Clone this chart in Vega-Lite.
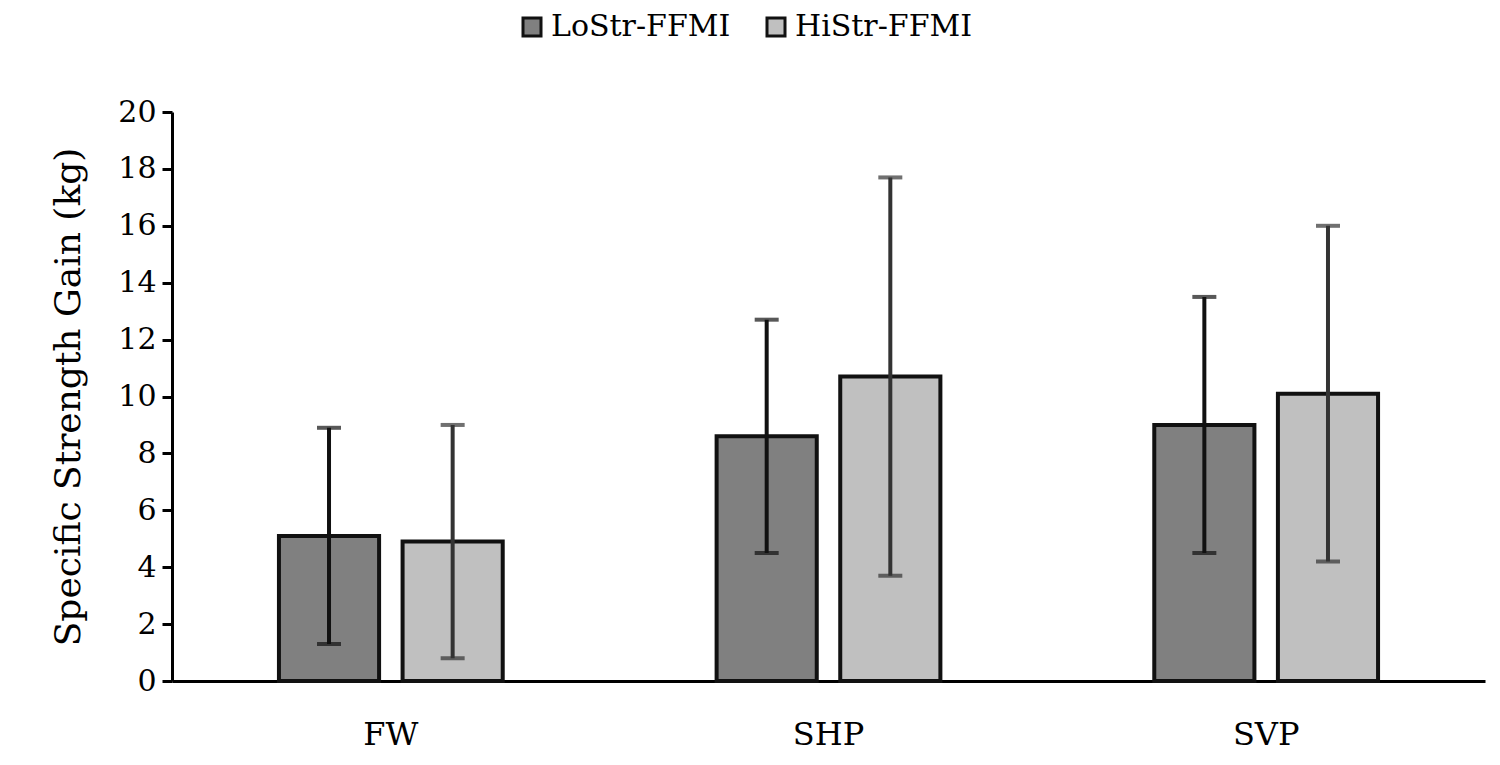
{
  "$schema": "https://vega.github.io/schema/vega-lite/v6.json",
  "width": 1313,
  "height": 569,
  "autosize": "none",
  "padding": {"left": 172, "top": 112, "right": 15, "bottom": 84},
  "background": "#ffffff",
  "view": {"stroke": null},
  "config": {"font": "DejaVu Serif"},
  "data": {
    "values": [
      {"exercise": "FW", "group": "LoStr-FFMI", "mean": 5.1, "lo": 1.3, "hi": 8.9},
      {"exercise": "FW", "group": "HiStr-FFMI", "mean": 4.9, "lo": 0.8, "hi": 9.0},
      {"exercise": "SHP", "group": "LoStr-FFMI", "mean": 8.6, "lo": 4.5, "hi": 12.7},
      {"exercise": "SHP", "group": "HiStr-FFMI", "mean": 10.7, "lo": 3.7, "hi": 17.7},
      {"exercise": "SVP", "group": "LoStr-FFMI", "mean": 9.0, "lo": 4.5, "hi": 13.5},
      {"exercise": "SVP", "group": "HiStr-FFMI", "mean": 10.1, "lo": 4.2, "hi": 16.0}
    ]
  },
  "encoding": {
    "x": {
      "field": "exercise",
      "type": "nominal",
      "sort": ["FW", "SHP", "SVP"],
      "scale": {"paddingInner": 0, "paddingOuter": 0},
      "axis": {
        "title": null,
        "labelAngle": 0,
        "labelFontSize": 32,
        "labelColor": "#000000",
        "labelPadding": 38,
        "ticks": false,
        "domainColor": "#000000",
        "domainWidth": 3
      }
    },
    "xOffset": {
      "field": "group",
      "type": "nominal",
      "sort": ["LoStr-FFMI", "HiStr-FFMI"],
      "scale": {"paddingInner": 0.19, "paddingOuter": 0.865}
    }
  },
  "layer": [
    {
      "mark": {"type": "bar", "stroke": "#111111", "strokeWidth": 4},
      "encoding": {
        "y": {
          "field": "mean",
          "type": "quantitative",
          "scale": {"domain": [0, 20]},
          "axis": {
            "title": "Specific Strength Gain (kg)",
            "titleFontSize": 36,
            "titleFontWeight": "normal",
            "titleColor": "#000000",
            "titlePadding": 30,
            "labelFontSize": 30,
            "labelColor": "#000000",
            "tickCount": 10,
            "grid": false,
            "domainColor": "#000000",
            "domainWidth": 3,
            "tickColor": "#000000",
            "tickWidth": 3,
            "tickSize": 10,
            "labelPadding": 6
          }
        },
        "fill": {
          "field": "group",
          "type": "nominal",
          "sort": ["LoStr-FFMI", "HiStr-FFMI"],
          "scale": {"range": ["#808080", "#c0c0c0"]},
          "legend": {
            "title": null,
            "orient": "none",
            "direction": "horizontal",
            "legendX": 345,
            "legendY": -100,
            "symbolType": "square",
            "symbolSize": 324,
            "symbolStrokeColor": "#111111",
            "symbolStrokeWidth": 3,
            "labelFontSize": 30,
            "labelLimit": 400,
            "labelColor": "#000000",
            "labelOffset": 4,
            "columnPadding": 30
          }
        }
      }
    },
    {
      "mark": {"type": "rule", "strokeWidth": 4},
      "encoding": {
        "y": {"field": "lo", "type": "quantitative"},
        "y2": {"field": "hi"},
        "color": {
          "field": "group",
          "type": "nominal",
          "sort": ["LoStr-FFMI", "HiStr-FFMI"],
          "scale": {"range": ["#111111", "#333333"]},
          "legend": null
        }
      }
    },
    {
      "mark": {"type": "tick", "thickness": 4, "size": 24},
      "encoding": {
        "y": {"field": "lo", "type": "quantitative"},
        "color": {"field": "group", "type": "nominal", "sort": ["LoStr-FFMI", "HiStr-FFMI"], "scale": {"range": ["#111111", "#333333"]}, "legend": null}
      }
    },
    {
      "mark": {"type": "tick", "thickness": 4, "size": 24},
      "encoding": {
        "y": {"field": "hi", "type": "quantitative"},
        "color": {"field": "group", "type": "nominal", "sort": ["LoStr-FFMI", "HiStr-FFMI"], "scale": {"range": ["#111111", "#333333"]}, "legend": null}
      }
    }
  ],
  "resolve": {"scale": {"color": "independent"}}
}
